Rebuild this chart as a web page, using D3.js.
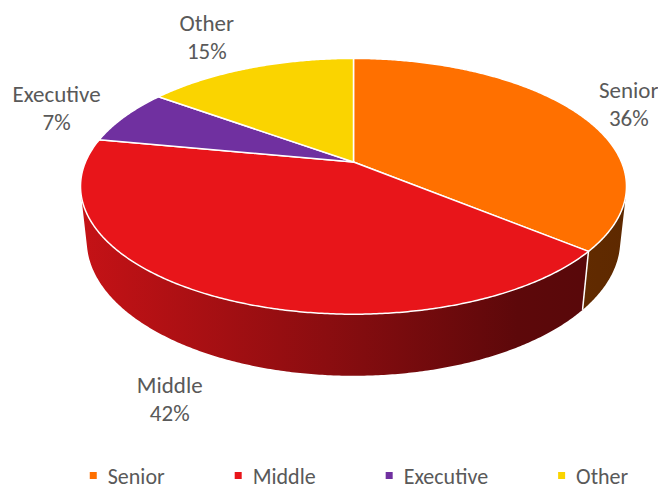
<!DOCTYPE html>
<html><head><meta charset="utf-8">
<script src="https://cdn.jsdelivr.net/npm/d3@7"></script>
<style>body{margin:0;background:#fff}svg{display:block}</style>
</head><body><svg id="c" width="658" height="489"></svg>
<script>
// ---- data ----
const categories = ["Senior", "Middle", "Executive", "Other"];
const values = [36, 42, 7, 15];
const percentLabels = ["36%", "42%", "7%", "15%"];
const colors = ["#FF7000", "#E8151A", "#7030A0", "#FAD400"];

// ---- layout ----
const W = 658, H = 489;
const FONT = "Calibri, Carlito, Lato, sans-serif";
const FS = 23, LFS = 22;
const svg = d3.select("#c");
svg.append("rect").attr("width", W).attr("height", H).attr("fill", "#fff");

// simple perspective projection of a tilted disc
const cx = 353.5, cy = 162, A = 268, sinP = 0.46, cosP = Math.sqrt(1 - sinP * sinP), S = 0.214, DEPTH = 0.23;
function proj(t, r, h) {
  const x = r * Math.sin(t), z = -r * Math.cos(t);
  const Yc = z * sinP - h * cosP;
  const Zc = 1 - S * (h * sinP + z * cosP);
  return [cx + A * x / Zc, cy + A * Yc / Zc];
}
const tMin = Math.acos(-S / cosP), tMax = 2 * Math.PI - tMin;
function arcPts(t0, t1, h) {
  const n = Math.max(2, Math.ceil(Math.abs(t1 - t0) / (Math.PI / 360)));
  return d3.range(n + 1).map(i => proj(t0 + (t1 - t0) * i / n, 1, h));
}

const pie = d3.pie().sort(null).startAngle(0).endAngle(2 * Math.PI);
const arcs = pie(values);

// gradients for side walls
const defs = svg.append("defs");
const gx0 = proj(tMax, 1, 0)[0], gx1 = proj(tMin, 1, 0)[0];
const shade = (c, f) => { const r = d3.rgb(c); return d3.rgb(r.r * f, r.g * f, r.b * f).formatHex(); };
colors.forEach((c, i) => {
  const g = defs.append("linearGradient").attr("id", "g" + i)
    .attr("gradientUnits", "userSpaceOnUse")
    .attr("x1", gx0).attr("x2", gx1).attr("y1", 0).attr("y2", 0);
  [[0, 0.85], [0.45, 0.6], [0.8, 0.4], [1, 0.37]].forEach(([o, f]) =>
    g.append("stop").attr("offset", o).attr("stop-color", shade(c, f)));
});

const line = d3.line();
// side walls
arcs.forEach((d, i) => {
  const a0 = Math.max(d.startAngle, tMin), a1 = Math.min(d.endAngle, tMax);
  if (a1 > a0) {
    const pts = arcPts(a0, a1, 0).concat(arcPts(a1, a0, -DEPTH));
    svg.append("path").attr("d", line(pts) + "Z").attr("fill", "url(#g" + i + ")");
  }
});
arcs.forEach(d => {
  const t = d.startAngle;
  if (t > tMin && t < tMax) {
    svg.append("path").attr("d", line([proj(t, 1, 0), proj(t, 1, -DEPTH)]))
      .attr("stroke", "#fff").attr("stroke-width", 1.5).attr("fill", "none");
  }
});
// top faces
arcs.forEach((d, i) => {
  const pts = [proj(0, 0, 0)].concat(arcPts(d.startAngle, d.endAngle, 0));
  svg.append("path").attr("d", line(pts) + "Z")
    .attr("fill", colors[i]).attr("stroke", "#fff").attr("stroke-width", 1.5)
    .attr("stroke-linejoin", "round");
});

// data labels
const labelNudge = [[2, 4], [-9, 2], [-18, 5], [-22, -9]];
arcs.forEach((d, i) => {
  const mid = (d.startAngle + d.endAngle) / 2;
  const front = Math.cos(mid) < 0;
  const p = proj(mid, 1.24, front ? -DEPTH : 0);
  const x = p[0] + labelNudge[i][0], y = p[1] + labelNudge[i][1];
  const t = svg.append("text").attr("text-anchor", "middle")
    .attr("font-family", FONT).attr("font-size", FS).attr("fill", "#595959");
  t.append("tspan").attr("x", x).attr("y", y - 9).text(categories[i]);
  t.append("tspan").attr("x", x).attr("y", y + 19).text(percentLabels[i]);
});

// legend
const lg = svg.append("g");
let xo = 0;
categories.forEach((c, i) => {
  const g = lg.append("g");
  g.append("rect").attr("x", xo).attr("y", 472).attr("width", 7).attr("height", 7).attr("fill", colors[i]);
  const tx = g.append("text").attr("x", xo + 18).attr("y", 484)
    .attr("font-family", FONT).attr("font-size", LFS).attr("fill", "#595959").text(c);
  const w = tx.node().getComputedTextLength();
  xo += 18 + w + 70;
});
const total = xo - 70;
lg.attr("transform", `translate(${359 - total / 2},0)`);
</script>
</body></html>
